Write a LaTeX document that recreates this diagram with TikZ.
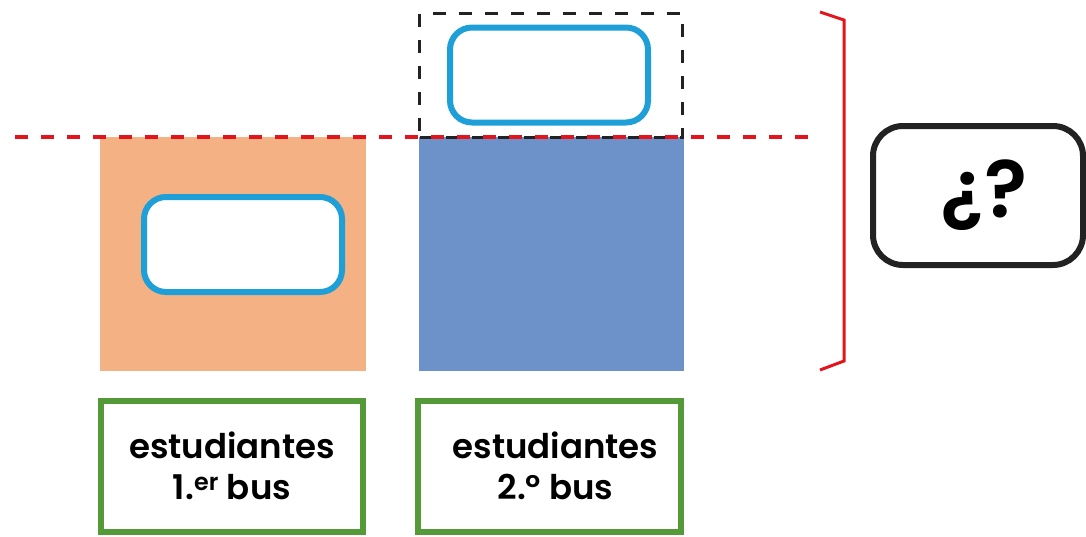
\documentclass[tikz,border=0pt]{standalone}
\usepackage{fontspec}
\setmainfont{Poppins}[BoldFont={Poppins SemiBold}]
\usetikzlibrary{positioning}
\definecolor{bar1}{HTML}{F4B183}
\definecolor{bar2}{HTML}{6D91C9}
\definecolor{slot}{HTML}{1E9FD8}
\definecolor{tag}{HTML}{559A38}
\definecolor{redline}{HTML}{E3141B}
\definecolor{ink}{HTML}{222222}
\begin{document}
\begin{tikzpicture}
            [x=1pt,y=-1pt,font=\bfseries,
             slotbox/.style={draw=slot,line width=6pt,rounded corners=22pt,fill=white,minimum width=198pt,minimum height=95pt},
             tagbox/.style={draw=tag,line width=6pt,minimum width=262pt,minimum height=131pt,align=center,font=\fontsize{34}{41}\selectfont\bfseries}]
            \useasboundingbox (0,0) rectangle (1086,536);
            % the two bars
            \node[fill=bar1,minimum width=266pt,minimum height=234pt] (bar1) at (233,254) {};
            \node[fill=bar2,minimum width=265pt,minimum height=234pt] (bar2) at (551.5,254) {};
            \node[draw=ink,line width=3pt,dash pattern=on 13pt off 13pt,minimum width=263pt,minimum height=124pt] (extra) at (551,75.5) {};
            % the empty slots
            \node[slotbox] (slot1) at (243,244.5) {};
            \node[slotbox] (slot2) at (549,75) {};
            % the level
            \coordinate (lvlA) at (15,137);
            \coordinate (lvlB) at (811,137);
            \draw[redline,line width=3.5pt,dash pattern=on 13pt off 13pt] (lvlA) -- (lvlB);
            % labels
            \node[tagbox] (tag1) at (232,466) {estudiantes\\1.\textsuperscript{er} bus};
            \node[tagbox,minimum width=263pt] (tag2) at (549.5,466) {\hspace{12pt}estudiantes\\\hspace{12pt}2.º bus};
            % the total
            \coordinate (brA) at (820,12);
            \coordinate (brB) at (844,20);
            \coordinate (brC) at (844,361);
            \coordinate (brD) at (820,370);
            \draw[redline,line width=3pt] (brA) -- (brB) -- (brC) -- (brD);
            \node[draw=ink,line width=6pt,rounded corners=30pt,minimum width=210pt,minimum height=139pt,font=\fontsize{80}{80}\selectfont\bfseries] (total) at (978,195.5) {\hspace{12pt}¿?};
        \end{tikzpicture}
\end{document}
